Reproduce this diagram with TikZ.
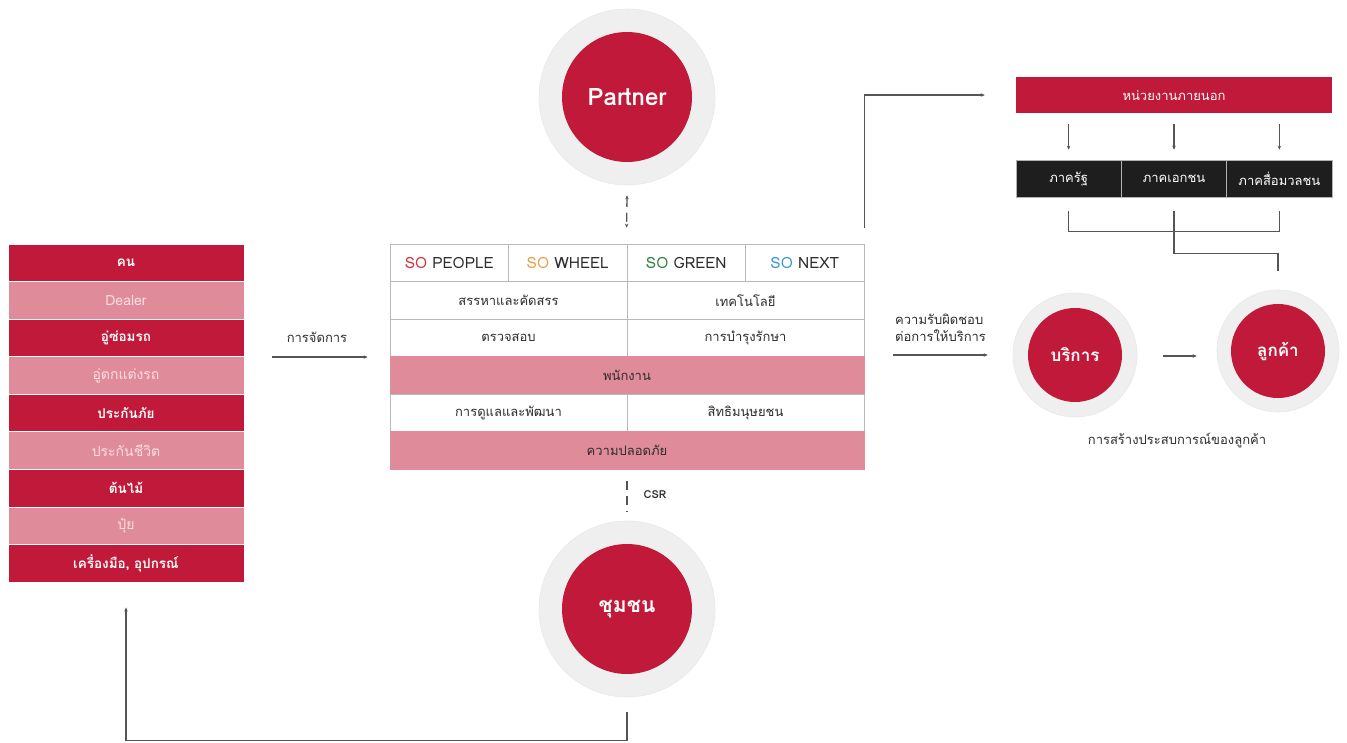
\documentclass[tikz,border=0pt]{standalone}
\usepackage{fontspec}
\setmainfont[Script=Thai]{Loma}
\usetikzlibrary{arrows.meta,calc}
\definecolor{soRed}{RGB}{193,25,58}
\definecolor{soPink}{RGB}{224,139,153}
\definecolor{soPinkTxt}{RGB}{250,222,227}
\definecolor{soRing}{RGB}{239,239,239}
\definecolor{soLine}{RGB}{85,85,85}
\definecolor{soTxt}{RGB}{45,45,45}
\definecolor{soBlack}{RGB}{30,30,30}
\definecolor{soOrange}{RGB}{232,160,70}
\definecolor{soGreen}{RGB}{45,130,70}
\definecolor{soBlue}{RGB}{55,150,215}
\definecolor{soPeople}{RGB}{215,50,60}
\begin{document}
\begin{tikzpicture}[x=1pt,y=-1pt,
  fs/.style={font=\fontsize{#1}{#1}\selectfont},
  lrow/.style={rectangle, draw=white, line width=0.8pt, minimum width=236pt, minimum height=37.56pt, inner sep=0pt, fs=14},
  ldark/.style={lrow, fill=soRed, text=white, font=\bfseries\fontsize{13.5}{13.5}\selectfont},
  llight/.style={lrow, fill=soPink, text=soPinkTxt},
  cell/.style={rectangle, draw=gray!55, line width=0.8pt, minimum height=37.56pt, inner sep=0pt, text=soTxt, fs=13},
  hcell/.style={cell, minimum width=118.5pt, fs=15.5},
  half/.style={cell, minimum width=237pt, fill=white},
  full/.style={cell, minimum width=474pt, fill=soPink, draw=soPink},
  ring/.style={circle, fill=soRing, draw=gray!18, line width=0.6pt, minimum size=#1, inner sep=0pt},
  core/.style={circle, fill=soRed, text=white, minimum size=#1, inner sep=0pt},
  conn/.style={draw=soLine, line width=1.6pt},
  tip/.style={-{Stealth[length=4pt,width=3.5pt]}},
  dashconn/.style={draw=soLine, line width=1.3pt, dash pattern=on 9pt off 6pt},
  hqbox/.style={rectangle, fill=soRed, text=white, minimum width=316pt, minimum height=36pt, inner sep=0pt, fs=13},
  blk/.style={rectangle, fill=soBlack, draw=gray!60, line width=0.6pt, text=white, minimum width=105.3pt, minimum height=37pt, inner sep=0pt, fs=13},
  lbl/.style={text=soTxt, inner sep=0pt, fs=13}
]
\useasboundingbox (0,0) rectangle (1347,742);
\fill[white] (0,0) rectangle (1347,742);

% left column
\node[ldark]  (L1) at (126,262.78) {คน};
\node[llight] (L2) at (126,300.34) {Dealer};
\node[ldark]  (L3) at (126,337.90) {อู่ซ่อมรถ};
\node[llight] (L4) at (126,375.46) {อู่ตกแต่งรถ};
\node[ldark]  (L5) at (126,413.02) {ประกันภัย};
\node[llight] (L6) at (126,450.58) {ประกันชีวิต};
\node[ldark]  (L7) at (126,488.14) {ต้นไม้};
\node[llight] (L8) at (126,525.70) {ปุ๋ย};
\node[ldark]  (L9) at (126,563.26) {เครื่องมือ, อุปกรณ์};

% center table
\node[hcell] (h1) at (449.25,262.78) {\textcolor{soPeople}{SO} PEOPLE};
\node[hcell] (h2) at (567.75,262.78) {\textcolor{soOrange}{SO} WHEEL};
\node[hcell] (h3) at (686.25,262.78) {\textcolor{soGreen}{SO} GREEN};
\node[hcell] (h4) at (804.75,262.78) {\textcolor{soBlue}{SO} NEXT};
\node[half] (r1l) at (508.5,300.34) {สรรหาและคัดสรร};
\node[half] (r1r) at (745.5,300.34) {เทคโนโลยี};
\node[half] (r2l) at (508.5,337.90) {ตรวจสอบ};
\node[half] (r2r) at (745.5,337.90) {การบำรุงรักษา};
\node[full] (r3) at (627,375.46) {พนักงาน};
\node[half] (r4l) at (508.5,413.02) {การดูแลและพัฒนา};
\node[half] (r4r) at (745.5,413.02) {สิทธิมนุษยชน};
\node[full] (r5) at (627,450.58) {ความปลอดภัย};

% partner circle
\node[ring=176pt] (pRing) at (627,97) {};
\node[core=130pt, font=\bfseries\fontsize{24}{24}\selectfont] (partner) at (627,97) {Partner};

% community circle
\node[ring=176pt] (cRing) at (627,609) {};
\node[core=130pt, font=\bfseries\fontsize{21}{21}\selectfont] (comm) at (627,609) {ชุมชน};

% right side
\node[hqbox] (hq) at (1174,95) {หน่วยงานภายนอก};
\node[blk] (b1) at (1068.65,178.5) {ภาครัฐ};
\node[blk] (b2) at (1174,178.5) {ภาคเอกชน};
\node[blk] (b3) at (1279.35,178.5) {ภาคสื่อมวลชน};

\node[ring=124pt] (sRing) at (1075,355) {};
\node[core=94pt, font=\bfseries\fontsize{17}{17}\selectfont] (serv) at (1075,355) {บริการ};
\node[ring=122pt] (lRing) at (1278,351) {};
\node[core=94pt, font=\bfseries\fontsize{17}{17}\selectfont] (cust) at (1278,351) {ลูกค้า};

% labels
\node[lbl] (mgmt) at (317,337) {การจัดการ};
\node[lbl, align=left, anchor=west, font=\fontsize{13}{17}\selectfont] (resp) at (895,328) {ความรับผิดชอบ\\ต่อการให้บริการ};
\node[lbl] (cap) at (1177,440) {การสร้างประสบการณ์ของลูกค้า};
\node[lbl, font=\bfseries\fontsize{11}{11}\selectfont] (csr) at (655,495) {CSR};

% connectors
\draw[dashconn, {Stealth[length=4pt,width=3.5pt]}-{Stealth[length=4pt,width=3.5pt]}] ([yshift=-10pt]pRing.south) -- ([yshift=16pt]h3.north west);
\draw[dashconn] ([yshift=-11pt]r5.south) -- ([yshift=9pt]cRing.north);
\draw[conn, tip] ([yshift=-15pt]cRing.south) -- ++(0,28) -| ([yshift=-25pt]L9.south);
\draw[conn, tip] ([xshift=28pt]L3.south east) -- ([xshift=-22pt]r2l.south west);
\draw[conn, tip] ([yshift=16pt]h4.north east) |- ([xshift=-31pt]hq.west);
\draw[conn, tip] ([yshift=-11pt]hq.south -| b1) -- ([yshift=10pt]b1.north);
\draw[conn, tip] ([yshift=-11pt]hq.south -| b2) -- ([yshift=10pt]b2.north);
\draw[conn, tip] ([yshift=-11pt]hq.south -| b3) -- ([yshift=10pt]b3.north);
\draw[conn] ([yshift=-14pt]b1.south) -- ++(0,20) -| ([yshift=-14pt]b3.south);
\draw[conn] ([yshift=-14pt]b2.south) -- ++(0,42) -| ([yshift=19pt]lRing.north);
\draw[conn, tip] ([xshift=-120pt]sRing.west) -- ([xshift=-25pt]sRing.west);
\draw[conn, tip] ([xshift=26pt,yshift=-1pt]sRing.east) -- ([xshift=-20pt,yshift=-1pt]sRing.east -| lRing.west);
\end{tikzpicture}
\end{document}
